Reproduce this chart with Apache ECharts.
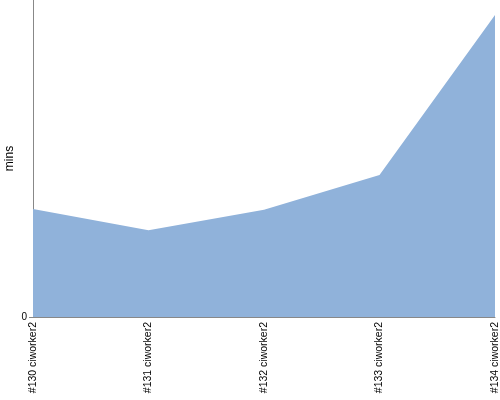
<!DOCTYPE html>
<html><head><meta charset="utf-8">
<script src="https://cdn.jsdelivr.net/npm/echarts@6/dist/echarts.min.js"></script>
<style>html,body{margin:0;padding:0;background:#fff}#c{width:500px;height:400px}</style>
</head><body><div id="c"></div>
<script>
const categories = ['#130 ciworker2', '#131 ciworker2', '#132 ciworker2', '#133 ciworker2', '#134 ciworker2'];
const durations = [34.1, 27.4, 33.8, 44.8, 95.3];
const yTickLabels = ['0'];

const chart = echarts.init(document.getElementById('c'));
chart.setOption({
  animation: false,
  grid: {left: 33, right: 5, top: 0, bottom: 83, containLabel: false, outerBoundsMode: 'none'},
  xAxis: {
    type: 'category', data: categories, boundaryGap: false,
    axisLine: {lineStyle: {color: '#888'}},
    axisTick: {show: false},
    axisLabel: {rotate: 90, fontFamily: 'Liberation Sans', fontSize: 10.5, color: '#000', margin: 5, interval: 0}
  },
  yAxis: {
    type: 'value', min: 0, max: 100, interval: 100,
    name: 'mins', nameLocation: 'middle', nameGap: 17, nameRotate: 90, nameMoveOverlap: false,
    nameTextStyle: {fontFamily: 'Liberation Sans', fontSize: 12, color: '#000'},
    axisLine: {show: true, lineStyle: {color: '#888'}},
    axisTick: {show: true, length: 4, customValues: [0], lineStyle: {color: '#888'}},
    splitLine: {show: false},
    axisLabel: {fontFamily: 'Liberation Sans', fontSize: 10, color: '#000', margin: 6,
      customValues: [0],
      formatter: v => yTickLabels.includes(String(v)) ? String(v) : ''}
  },
  series: [{
    type: 'line', data: durations, symbol: 'none',
    lineStyle: {width: 0},
    areaStyle: {color: '#90b2da', opacity: 1}
  }]
});
</script></body></html>
